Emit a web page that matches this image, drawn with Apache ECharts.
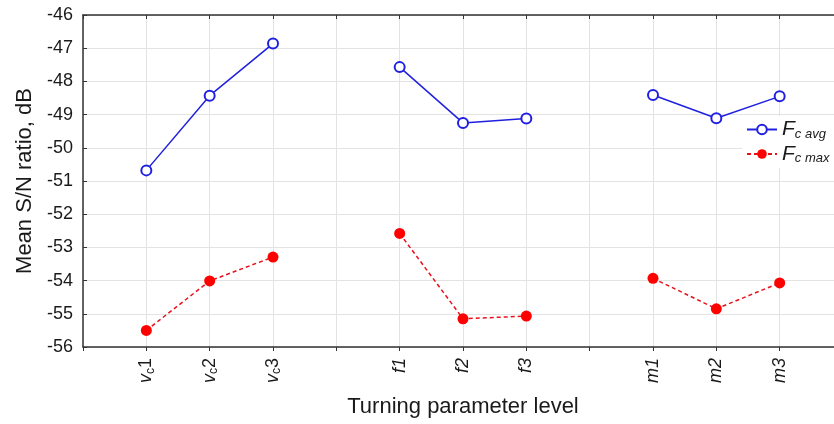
<!DOCTYPE html>
<html>
<head>
<meta charset="utf-8">
<script src="https://cdn.jsdelivr.net/npm/echarts@6/dist/echarts.min.js"></script>
<style>
  html, body { margin: 0; padding: 0; background: #fff; }
  #chart { width: 834px; height: 424px; }
</style>
</head>
<body>
<div id="chart"></div>
<script>
// categories (empty slots act as gaps between the parameter groups)
var levels = ['g0', 'vc1', 'vc2', 'vc3', 'g1', 'f1', 'f2', 'f3', 'g2', 'm1', 'm2', 'm3', 'g3'];
var levelLabels = {
  vc1: '{i|v}{s|c}{n|1}', vc2: '{i|v}{s|c}{n|2}', vc3: '{i|v}{s|c}{n|3}',
  f1: '{i|f1}', f2: '{i|f2}', f3: '{i|f3}',
  m1: '{i|m1}', m2: '{i|m2}', m3: '{i|m3}'
};
// mean S/N ratio, dB
var fcAvg = ['-', -50.68, -48.43, -46.86, '-', -47.57, -49.25, -49.12, '-', -48.41, -49.11, -48.45, '-'];
var fcMax = ['-', -55.5, -54.01, -53.29, '-', -52.58, -55.15, -55.07, '-', -53.93, -54.85, -54.07, '-'];

var yMin = -56, yMax = -46, yStep = 1;

var textColor = '#1a1a1a';
var font = 'Liberation Sans, Arial, sans-serif';

var chart = echarts.init(document.getElementById('chart'));

chart.setOption({
  animation: false,
  backgroundColor: '#fff',
  textStyle: { fontFamily: font, color: textColor },
  // the plot frame runs a little past the right edge of the picture
  grid: { left: 83, top: 15, bottom: 77, width: 760, outerBoundsMode: 'none' },
  legend: {
    orient: 'vertical',
    left: 742,
    top: 116,
    backgroundColor: '#fff',
    padding: [3, 6, 3, 4],
    itemGap: 3,
    itemWidth: 30,
    itemHeight: 12,
    data: ['avg', 'max'],
    formatter: function (name) {
      return '{F|F}{s|c ' + name + '}';
    },
    textStyle: {
      rich: {
        F: { fontSize: 21, fontStyle: 'italic', color: textColor, fontFamily: font, lineHeight: 22 },
        s: { fontSize: 13, fontStyle: 'italic', color: textColor, fontFamily: font, verticalAlign: 'bottom', lineHeight: 18 }
      }
    }
  },
  xAxis: [{
    type: 'category',
    data: levels,
    boundaryGap: false,
    axisLine: { lineStyle: { color: '#333', width: 1.5 } },
    axisTick: { show: true, inside: false, length: 4, lineStyle: { color: '#333' } },
    splitLine: { show: true, lineStyle: { color: '#e3e3e3', width: 1 } },
    axisLabel: {
      interval: 0,
      rotate: 90,
      margin: 11,
      formatter: function (v) { return levelLabels[v] || ''; },
      rich: {
        i: { fontSize: 18, fontStyle: 'italic', color: textColor, fontFamily: font, lineHeight: 20 },
        n: { fontSize: 18, color: textColor, fontFamily: font, lineHeight: 20 },
        s: { fontSize: 12, color: textColor, fontFamily: font, verticalAlign: 'bottom', lineHeight: 14 }
      }
    },
    name: 'Turning parameter level',
    nameLocation: 'middle',
    nameGap: 49,
    nameTextStyle: { fontSize: 22, color: textColor, fontFamily: font }
  }, {
    type: 'category',
    data: levels,
    position: 'top',
    boundaryGap: false,
    axisLine: { lineStyle: { color: '#333', width: 1.5 } },
    axisTick: { show: true, inside: true, length: 4, lineStyle: { color: '#333' } },
    axisLabel: { show: false },
    splitLine: { show: false }
  }],
  yAxis: {
    type: 'value',
    min: yMin,
    max: yMax,
    interval: yStep,
    axisLine: { show: true, lineStyle: { color: '#333', width: 1.5 } },
    axisTick: { show: true, inside: true, length: 4, lineStyle: { color: '#333' } },
    splitLine: { show: true, lineStyle: { color: '#e3e3e3', width: 1 } },
    axisLabel: { fontSize: 18, color: textColor, margin: 10, fontFamily: font },
    name: 'Mean S/N ratio, dB',
    nameLocation: 'middle',
    nameGap: 46,
    nameTextStyle: { fontSize: 22, color: textColor, fontFamily: font }
  },
  series: [{
    name: 'avg',
    type: 'line',
    data: fcAvg,
    symbol: 'emptyCircle',
    symbolSize: 10,
    connectNulls: false,
    lineStyle: { color: '#2020e0', width: 1.5 },
    itemStyle: { color: '#2020e0', borderWidth: 1.5 }
  }, {
    name: 'max',
    type: 'line',
    data: fcMax,
    symbol: 'circle',
    symbolSize: 11,
    connectNulls: false,
    lineStyle: { color: '#e8101c', width: 1.5, type: [4, 3] },
    itemStyle: { color: '#ff0000' }
  }]
});
</script>
</body>
</html>
